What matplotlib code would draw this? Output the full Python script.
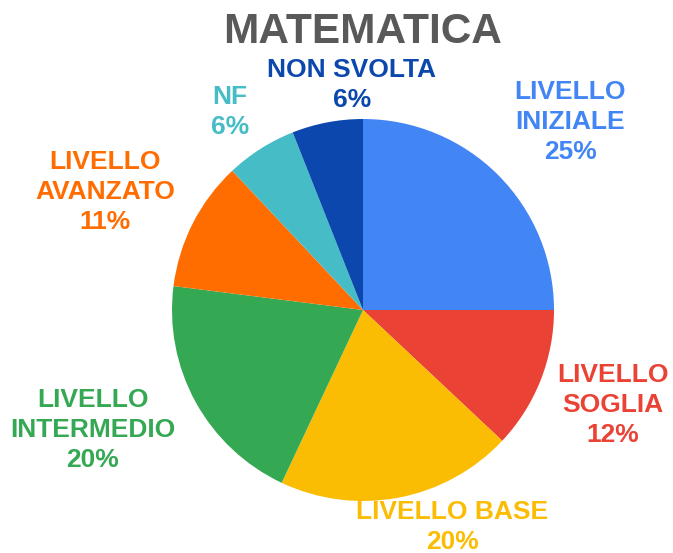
import matplotlib.pyplot as plt

# Data
categories = ['LIVELLO\nINIZIALE', 'LIVELLO\nSOGLIA', 'LIVELLO BASE', 'LIVELLO\nINTERMEDIO',
              'LIVELLO\nAVANZATO', 'NF', 'NON SVOLTA']
values = [25, 12, 20, 20, 11, 6, 6]
colors = ['#4285F4', '#EA4335', '#FBBC04', '#34A853', '#FF6D01', '#46BDC6', '#0B47AD']

# label centres, in units of the pie radius
label_pos = [(1.084, 0.984), (1.309, -0.497), (0.466, -1.136), (-1.414, -0.628),
             (-1.351, 0.618), (-0.696, 1.037), (-0.058, 1.178)]

plt.rcParams['font.family'] = ['Liberation Sans', 'DejaVu Sans']

fig = plt.figure(figsize=(6.73, 5.53), dpi=100)
cx, cy, r = 363, 310, 191
W, H = 673, 553
ax = fig.add_axes([(cx - r) / W, (H - cy - r) / H, 2 * r / W, 2 * r / H])
ax.axis('off')

ax.pie(values, colors=colors, startangle=90, counterclock=False, radius=1,
       wedgeprops=dict(linewidth=0))
ax.set_xlim(-1, 1)
ax.set_ylim(-1, 1)

total = sum(values)
for cat, v, c, (x, y) in zip(categories, values, colors, label_pos):
    ax.text(x, y, f'{cat}\n{round(v / total * 100)}%', color=c, fontsize=19,
            fontweight='bold', ha='center', va='center', linespacing=1.32,
            clip_on=False)

fig.text(363 / W, 1 - 32 / H, 'MATEMATICA', color='#595959', fontsize=30.5,
         fontweight='bold', ha='center', va='center')

fig.savefig('out.png', dpi=100)
